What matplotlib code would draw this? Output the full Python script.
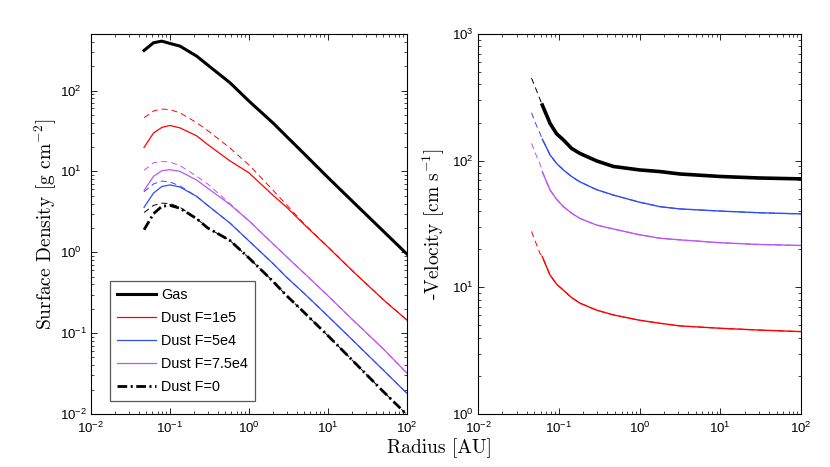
import matplotlib
matplotlib.use('Agg')
import matplotlib.pyplot as plt

plt.rcParams['font.family'] = ['Liberation Sans', 'DejaVu Sans']
plt.rcParams['mathtext.fontset'] = 'cm'
plt.rcParams['lines.scale_dashes'] = False

# --- left panel: surface density [g cm^-2] vs radius [AU]
r_left = [0.047, 0.062, 0.079, 0.1, 0.134, 0.218, 0.3, 0.574, 1, 2, 3, 5, 10, 20, 50, 100]
sig_gas = [313, 390, 408, 382, 354, 266, 207, 125, 74, 40, 27, 16.5, 8.4, 4.35, 1.83, 0.95]
sig_f1e5 = [19.8, 29.9, 35, 37, 34.5, 27.5, 21.5, 13.5, 9.6, 5.1, 3.6, 2.2, 1.16, 0.6, 0.26, 0.145]
sig_f1e5_an = [46, 56, 59, 58, 53, 40, 32, 19.5, 12, 5.9, 3.85, 2.25, 1.17, 0.6, 0.26, 0.145]
sig_f5e4 = [3.6, 5.4, 6.5, 6.8, 6.4, 4.9, 3.8, 2.3, 1.38, 0.73, 0.49, 0.31, 0.162, 0.084, 0.035, 0.018]
sig_f5e4_an = [5.6, 7.0, 7.6, 7.4, 6.6, 4.9, 3.8, 2.3, 1.38, 0.73, 0.49, 0.31, 0.162, 0.084, 0.035, 0.018]
sig_f75e4 = [5.8, 8.7, 10.2, 10.5, 10.0, 7.8, 6.2, 3.9, 2.45, 1.28, 0.88, 0.55, 0.29, 0.15, 0.064, 0.032]
sig_f75e4_an = [10.3, 12.8, 13.3, 13.0, 11.8, 8.7, 7.0, 4.0, 2.45, 1.28, 0.88, 0.55, 0.29, 0.15, 0.064, 0.032]
sig_f0 = [1.9, 3.0, 3.7, 3.8, 3.5, 2.6, 2.0, 1.4, 0.85, 0.44, 0.29, 0.18, 0.093, 0.047, 0.019, 0.0098]
sig_f0_an = [3.1, 3.8, 4.05, 4.0, 3.6, 2.6, 2.0, 1.4, 0.85, 0.44, 0.29, 0.18, 0.093, 0.047, 0.019, 0.0098]

# --- right panel: -velocity [cm s^-1] vs radius [AU]
r_right_an = [0.046, 0.052, 0.0586, 0.0625, 0.07, 0.078, 0.094, 0.114, 0.144, 0.183,
              0.295, 0.474, 1, 1.8, 3.16, 10, 30, 100]
r_right = r_right_an[3:]
vel_gas = [275, 232, 197, 163, 146, 125, 114, 99.5, 90, 84.5, 82, 78.5, 75, 73, 71.8]
vel_gas_an = [448, 370, 305] + vel_gas
vel_f1e5 = [17.5, 14.7, 12.5, 10.6, 9.5, 8.3, 7.5, 6.6, 6.06, 5.5, 5.2, 4.96, 4.75, 4.6, 4.47]
vel_f1e5_an = [27.6, 22.5, 18.5] + vel_f1e5
vel_f5e4 = [148, 128, 111, 95, 84.5, 75, 68, 59, 53.5, 47, 43.3, 41.6, 40, 38.8, 38]
vel_f5e4_an = [239, 195, 164] + vel_f5e4
vel_f75e4 = [82, 69, 58.7, 49.5, 43.4, 38.5, 35, 31, 28.9, 26, 24.4, 23.7, 22.5, 21.8, 21.4]
vel_f75e4_an = [137, 112, 94] + vel_f75e4

RED = '#ff0000'
BLUE = '#2f4cf5'
PURPLE = '#bb55f5'
DASH = (4.3, 2.9)
DASHDOT = (7, 2.5, 1.5, 2.5)
LABEL_FONT = 'cmr10'

fig = plt.figure(figsize=(8.3, 4.67), dpi=100)
ax1 = fig.add_axes([0.1096, 0.1135, 0.3807, 0.8137])
ax2 = fig.add_axes([0.5759, 0.1135, 0.3892, 0.8137])

# left: analytic (thin dashed) first, then numerical curves
ax1.loglog(r_left, sig_f1e5_an, color=RED, lw=0.7, dashes=DASH)
ax1.loglog(r_left, sig_f75e4_an, color=PURPLE, lw=0.7, dashes=DASH)
ax1.loglog(r_left, sig_f5e4_an, color=BLUE, lw=0.7, dashes=DASH)
ax1.loglog(r_left, sig_f0_an, color='k', lw=0.7, dashes=DASH)

h_gas, = ax1.loglog(r_left, sig_gas, color='k', lw=2.2, label='Gas')
h_r, = ax1.loglog(r_left, sig_f1e5, color=RED, lw=0.9, label='Dust F=1e5')
h_b, = ax1.loglog(r_left, sig_f5e4, color=BLUE, lw=0.9, label='Dust F=5e4')
h_p, = ax1.loglog(r_left, sig_f75e4, color=PURPLE, lw=0.9, label='Dust F=7.5e4')
h_0, = ax1.loglog(r_left, sig_f0, color='k', lw=2.0, dashes=DASHDOT, label='Dust F=0')

ax1.set_xlim(1e-2, 1e2)
ax1.set_ylim(1e-2, 500)
ax1.set_ylabel('Surface Density [g cm$^{-2}$]', fontsize=14, labelpad=1, family=LABEL_FONT)

leg = ax1.legend(handles=[h_gas, h_r, h_b, h_p, h_0], loc='lower left',
                 bbox_to_anchor=(0.06, 0.034), borderaxespad=0, fontsize=10.4,
                 fancybox=False, framealpha=1, edgecolor='0.35',
                 handlelength=2.7, handletextpad=0.35, labelspacing=0.62,
                 borderpad=0.5)
leg.get_frame().set_linewidth(0.9)

# right panel
ax2.loglog(r_right_an, vel_gas_an, color='k', lw=0.7, dashes=DASH)
ax2.loglog(r_right_an, vel_f5e4_an, color=BLUE, lw=0.7, dashes=DASH)
ax2.loglog(r_right_an, vel_f75e4_an, color=PURPLE, lw=0.7, dashes=DASH)
ax2.loglog(r_right_an, vel_f1e5_an, color=RED, lw=0.7, dashes=DASH)

ax2.loglog(r_right, vel_gas, color='k', lw=2.6)
ax2.loglog(r_right, vel_f5e4, color=BLUE, lw=1.0)
ax2.loglog(r_right, vel_f75e4, color=PURPLE, lw=1.0)
ax2.loglog(r_right, vel_f1e5, color=RED, lw=1.0)

ax2.set_xlim(1e-2, 1e2)
ax2.set_ylim(1, 1e3)
ax2.set_ylabel('-Velocity [cm s$^{-1}$]', fontsize=14, labelpad=4, family=LABEL_FONT)

for ax, ypad in ((ax1, 22), (ax2, 18.5)):
    ax.tick_params(which='both', direction='in', top=True, right=True, labelsize=9.5)
    ax.tick_params(which='major', length=4, width=0.6)
    ax.tick_params(which='minor', length=2, width=0.5)
    ax.tick_params(axis='x', pad=5)
    ax.tick_params(axis='y', pad=ypad)
    for lbl in ax.get_yticklabels():
        lbl.set_horizontalalignment('left')
    for s in ax.spines.values():
        s.set_linewidth(0.8)

fig.text(0.53, 0.041, 'Radius [AU]', ha='center', va='center', fontsize=14, family=LABEL_FONT)

fig.savefig('out.png', dpi=100)
plt.close(fig)
